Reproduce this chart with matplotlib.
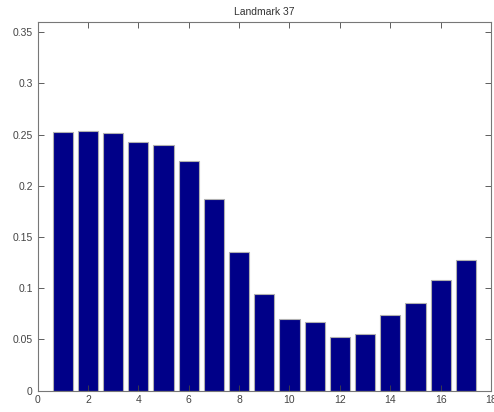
import matplotlib

matplotlib.use("Agg")
import matplotlib.pyplot as plt

plt.rcParams["font.family"] = ["Liberation Sans", "DejaVu Sans"]

# bar values
positions = list(range(1, 18))
values = [0.252, 0.253, 0.2517, 0.2426, 0.2397, 0.2237, 0.1872, 0.1351, 0.0944,
          0.0703, 0.0674, 0.0521, 0.0554, 0.0739, 0.0856, 0.1081, 0.1276]
x_ticks = list(range(0, 19, 2))
y_ticks = [0, 0.05, 0.1, 0.15, 0.2, 0.25, 0.3, 0.35]
y_tick_labels = ["0", "0.05", "0.1", "0.15", "0.2", "0.25", "0.3", "0.35"]

fig = plt.figure(figsize=(4.94, 4.12), dpi=100)
ax = fig.add_axes([0.076, 0.052, 0.918, 0.895])
ax.bar(positions, values, width=0.8, color="#000088", edgecolor="#b0b0b0", linewidth=0.8)
ax.set_xlim(0, 18)
ax.set_ylim(0, 0.36)
ax.set_xticks(x_ticks)
ax.set_yticks(y_ticks)
ax.set_yticklabels(y_tick_labels)
ax.tick_params(direction="in", top=True, right=True, labelsize=7.5,
               colors="#444444", length=4, width=0.6)
for spine in ax.spines.values():
    spine.set_color("#777777")
    spine.set_linewidth(0.8)
ax.set_title("Landmark 37", fontsize=7.5, color="#333333", pad=5)

fig.savefig("out.png", dpi=100)
plt.close(fig)
